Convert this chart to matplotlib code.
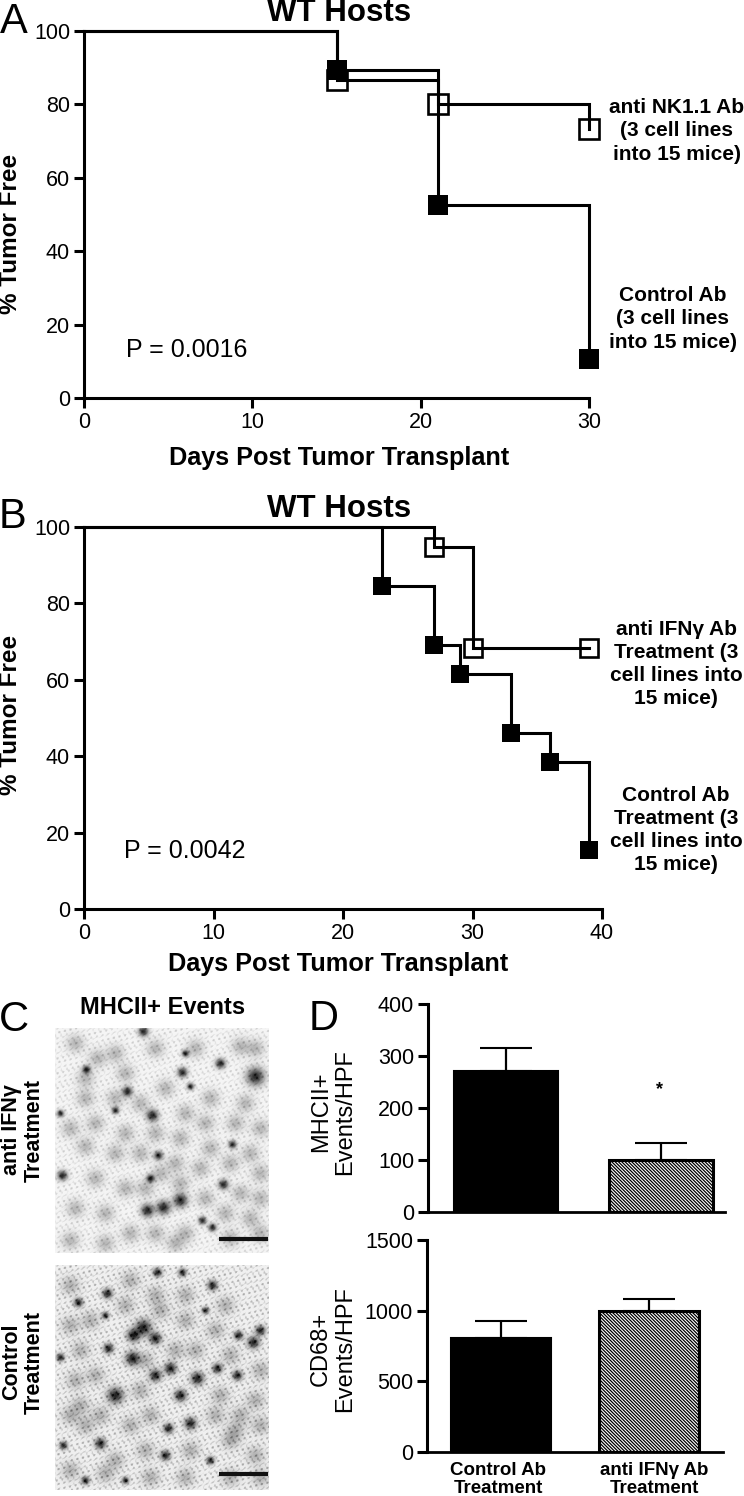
import numpy as np
import matplotlib
matplotlib.use('Agg')
import matplotlib.pyplot as plt
from matplotlib.transforms import ScaledTranslation

W = 744
H = 1496
plt.rcParams['font.family'] = ['Liberation Sans', 'DejaVu Sans']
plt.rcParams['hatch.linewidth'] = 0.9

# panel A, survival steps
a_days = [0, 15, 21, 30]
a_nk = [100, 86.7, 80, 73.3]
a_ctrl = [100, 89.5, 52.6, 10.5]

# panel B
b_days_ifn = [0, 27, 30, 39]
b_ifn = [100, 94.7, 68.4, 68.4]
b_days_ctrl = [0, 23, 27, 29, 33, 36, 39]
b_ctrl = [100, 84.6, 69.2, 61.5, 46.2, 38.5, 15.4]

# panel D bars
bar_names = ['Control Ab\nTreatment', 'anti IFN\u03b3 Ab\nTreatment']
mhc_mean = [272, 100]
mhc_top = [315, 132]
cd68_mean = [805, 1000]
cd68_top = [925, 1080]

# panel C, stained spots (x, y, strength)
c1_dark = [(88, 3, 1), (165, 35, 1), (200, 48, 1.8), (127, 44, 1), (72, 63, 1), (97, 87, 1.2),
           (31, 41, .8), (103, 127, .9), (95, 150, .8), (7, 147, 1), (168, 156, 1), (177, 116, .8),
           (135, 58, .7), (147, 192, .8), (157, 199, .8), (60, 82, .7), (92, 182, 1.3), (108, 179, 1.4),
           (125, 172, 1.4), (5, 85, .7), (130, 25, .7)]
c1_mid = [(60, 25), (42, 30), (20, 15), (100, 20), (140, 20), (185, 18), (70, 45), (110, 60), (155, 70), (190, 75),
          (30, 70), (60, 70), (85, 75), (130, 85), (150, 95), (180, 95), (205, 100), (15, 100), (40, 95), (70, 105),
          (100, 105), (125, 110), (155, 120), (195, 125), (30, 118), (60, 125), (85, 125), (120, 135), (145, 140),
          (175, 135), (205, 145), (40, 150), (70, 160), (90, 160), (125, 155), (185, 165), (150, 170), (205, 170),
          (20, 180), (50, 185), (75, 205), (100, 205), (130, 205), (170, 185), (195, 190), (15, 212), (50, 215),
          (120, 215), (175, 210), (205, 205), (105, 145), (200, 20), (30, 50)]
c2_dark = [(52, 28, 1), (88, 62, 1.6), (78, 70, 1.3), (100, 73, 1.2), (77, 93, 1.4), (53, 83, 1), (100, 110, 1.2),
           (115, 103, 1.2), (142, 113, 1.3), (60, 130, 1.6), (125, 130, 1.2), (135, 158, 1.2), (113, 163, 1),
           (45, 178, 1.1), (110, 190, 1), (198, 77, 1.2), (157, 20, 1), (127, 7, .8), (102, 7, .9), (23, 37, .9),
           (182, 110, 1), (162, 103, 1), (183, 70, .9), (5, 92, .8), (155, 195, .8), (30, 215, .8), (70, 215, .7),
           (205, 65, 1), (8, 180, .8), (50, 50, .7), (150, 45, .7)]
c2_mid = [(15, 20), (35, 55), (15, 60), (70, 40), (100, 30), (130, 30), (170, 40), (130, 55), (160, 65), (25, 85),
          (105, 45), (140, 85), (175, 90), (205, 105), (20, 115), (40, 110), (85, 125), (165, 130), (200, 135),
          (25, 140), (30, 160), (75, 160), (95, 150), (160, 150), (185, 150), (205, 160), (15, 150), (60, 195),
          (90, 185), (135, 185), (175, 175), (200, 190), (15, 205), (50, 208), (95, 212), (130, 212), (175, 212),
          (205, 212), (75, 15), (180, 165), (45, 150), (120, 85), (90, 95)]


def box(x0, y0, x1, y1):
    # pixel box (y down) to figure fractions
    return [x0 / W, 1 - y1 / H, (x1 - x0) / W, (y1 - y0) / H]


def label(x, y, s, **kw):
    kw.setdefault('ha', 'center')
    kw.setdefault('va', 'center')
    fig.text(x / W, 1 - y / H, s, **kw)


def style(ax, size=15.5):
    for side in ['top', 'right']:
        ax.spines[side].set_visible(False)
    for side in ['left', 'bottom']:
        ax.spines[side].set_linewidth(2.2)
    ax.patch.set_alpha(0)
    ax.tick_params(width=2.2, length=7, labelsize=size, pad=3)


def survival(ax, x, y, filled, size):
    ax.plot(x, y, color='k', lw=2.2, drawstyle='steps-post', clip_on=False, solid_joinstyle='miter',
            marker='s', markevery=list(range(1, len(x))), ms=size,
            mfc='k' if filled else 'none', mec='k', mew=0 if filled else 1.9)


def micrograph(ax, dark, mid, base, bar_y, grain):
    yy, xx = np.mgrid[0:225, 0:214]
    img = np.full(xx.shape, float(base))
    # fine mottling so the tile reads as tissue, not as separate dots
    mottle = (np.sin(xx * 0.71 + yy * 0.43) * np.sin(xx * 0.37 - yy * 0.83)
              + np.sin(xx * 0.23 + yy * 1.07) * np.sin(xx * 1.13 + yy * 0.19))
    img -= grain * np.clip(mottle, 0, None)
    for px, py in mid:
        img -= 0.24 * np.exp(-((xx - px) ** 2 + (yy - py) ** 2) / (2 * 6.0 ** 2))
    for px, py, s in dark:
        img -= 0.8 * np.exp(-((xx - px) ** 2 + (yy - py) ** 2) / (2 * (3.4 * s) ** 2))
    ax.imshow(np.clip(img, 0.05, 1), cmap='gray', vmin=0, vmax=1, aspect='auto', interpolation='bilinear')
    ax.plot([164, 212], [bar_y, bar_y], color='#111111', lw=3, solid_capstyle='butt')
    ax.set_xlim(-0.5, 213.5)
    ax.set_ylim(224.5, -0.5)
    ax.axis('off')


def bars(ax, means, tops, ymax, yticks, width, xmax):
    xpos = [1, 2]
    ax.bar(xpos[0], means[0], width=width, color='k', edgecolor='k', lw=1.5)
    ax.bar(xpos[1], means[1], width=width, color='white', edgecolor='k', lw=2.2, hatch='\\' * 10)
    for xp, m, t in zip(xpos, means, tops):
        ax.errorbar(xp, m, yerr=[[0], [t - m]], color='k', elinewidth=1.6, capsize=18.5, capthick=1.5, zorder=1)
    ax.set_xlim(0.5, xmax)
    ax.set_ylim(0, ymax)
    ax.set_yticks(yticks)
    ax.set_xticks(xpos)
    style(ax)
    ax.spines['bottom'].set_linewidth(2)


fig = plt.figure(figsize=(W / 100, H / 100), dpi=100, facecolor='white')

# A
ax = fig.add_axes(box(84, 31, 589, 398))
survival(ax, a_days, a_nk, False, 15)
survival(ax, a_days, a_ctrl, True, 14.5)
ax.set_xlim(0, 30)
ax.set_ylim(0, 100)
ax.set_xticks([0, 10, 20, 30])
ax.set_yticks([0, 20, 40, 60, 80, 100])
style(ax)

# B
ax = fig.add_axes(box(84, 527, 602, 909))
survival(ax, b_days_ifn, b_ifn, False, 12.5)
survival(ax, b_days_ctrl, b_ctrl, True, 12.3)
ax.set_xlim(0, 40)
ax.set_ylim(0, 100)
ax.set_xticks([0, 10, 20, 30, 40])
ax.set_yticks([0, 20, 40, 60, 80, 100])
style(ax)

# C
micrograph(fig.add_axes(box(55, 1028, 269, 1253)), c1_dark, c1_mid, 0.96, 210, 0.09)
micrograph(fig.add_axes(box(55, 1265, 269, 1490)), c2_dark, c2_mid, 0.94, 208, 0.15)

# D
ax = fig.add_axes(box(428, 1004, 725, 1212))
bars(ax, mhc_mean, mhc_top, 400, [0, 100, 200, 300, 400], 0.67, 2.41)
ax.set_xticklabels([])
ax.tick_params(axis='x', length=0)

ax = fig.add_axes(box(427, 1240, 723, 1452))
bars(ax, cd68_mean, cd68_top, 1500, [0, 500, 1000, 1500], 0.676, 2.5)
ax.set_xticklabels(bar_names, fontsize=13.5, fontweight='bold', linespacing=1.12)
ax.tick_params(axis='x', length=0, pad=7)
for tick, dx in zip(ax.get_xticklabels(), [-3, 5]):
    tick.set_transform(tick.get_transform() + ScaledTranslation(dx / 100, 0, fig.dpi_scale_trans))

# panel letters
for x, y, s in [(14, 33, 'A'), (12, 528, 'B'), (14, 1031, 'C'), (324, 1030, 'D')]:
    label(x, y, s, fontsize=30, va='baseline')

# titles, axis labels
label(339, 13, 'WT Hosts', fontsize=22.5, fontweight='bold')
label(339, 509, 'WT Hosts', fontsize=22.5, fontweight='bold')
label(339, 458, 'Days Post Tumor Transplant', fontsize=18.2, fontweight='bold')
label(338, 964, 'Days Post Tumor Transplant', fontsize=18.2, fontweight='bold')
label(11, 234, '% Tumor Free', fontsize=17.5, fontweight='bold', rotation=90)
label(11, 715, '% Tumor Free', fontsize=17.5, fontweight='bold', rotation=90)
label(187, 350, 'P = 0.0016', fontsize=18)
label(185, 851, 'P = 0.0042', fontsize=18)

# curve annotations
label(677, 131, 'anti NK1.1 Ab\n(3 cell lines\ninto 15 mice)', fontsize=15, fontweight='bold', linespacing=1.27)
label(673, 319, 'Control Ab\n(3 cell lines\ninto 15 mice)', fontsize=15, fontweight='bold', linespacing=1.27)
label(676, 664, 'anti IFN\u03b3 Ab\nTreatment (3\ncell lines into\n15 mice)', fontsize=15, fontweight='bold', linespacing=1.27)
label(676, 830, 'Control Ab\nTreatment (3\ncell lines into\n15 mice)', fontsize=15, fontweight='bold', linespacing=1.27)

# C and D text
label(163, 1008, 'MHCII+ Events', fontsize=17, fontweight='bold')
label(23, 1130, 'anti IFN\u03b3\nTreatment', fontsize=15.5, fontweight='bold', rotation=90, linespacing=1.12)
label(23, 1362, 'Control\nTreatment', fontsize=15.5, fontweight='bold', rotation=90, linespacing=1.12)
label(333, 1112, 'MHCII+\nEvents/HPF', fontsize=17, rotation=90, linespacing=1.1)
label(333, 1349, 'CD68+\nEvents/HPF', fontsize=17, rotation=90, linespacing=1.1)
label(659, 1090, '*', fontsize=13, fontweight='bold')

fig.savefig('out.png', dpi=100, facecolor='white')
